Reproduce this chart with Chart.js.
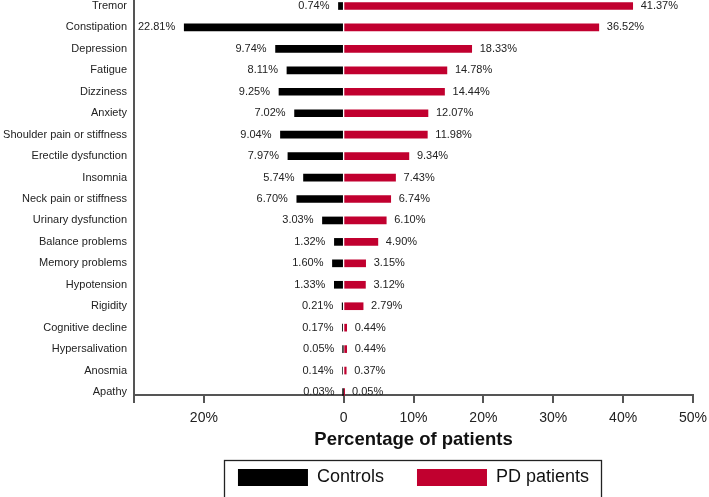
<!DOCTYPE html>
<html>
<head>
<meta charset="utf-8">
<script src="https://cdn.jsdelivr.net/npm/chart.js@4/dist/chart.umd.min.js"></script>
<style>
html,body{margin:0;padding:0;background:#fff;}
#wrap{width:709px;height:497px;}
</style>
</head>
<body>
<div id="wrap"><canvas id="c" width="709" height="497"></canvas></div>
<script>
const categories = ['Tremor','Constipation','Depression','Fatigue','Dizziness','Anxiety','Shoulder pain or stiffness','Erectile dysfunction','Insomnia','Neck pain or stiffness','Urinary dysfunction','Balance problems','Memory problems','Hypotension','Rigidity','Cognitive decline','Hypersalivation','Anosmia','Apathy'];
const controls = [0.74,22.81,9.74,8.11,9.25,7.02,9.04,7.97,5.74,6.70,3.03,1.32,1.60,1.33,0.21,0.17,0.05,0.14,0.03];
const pdPatients = [41.37,36.52,18.33,14.78,14.44,12.07,11.98,9.34,7.43,6.74,6.10,4.90,3.15,3.12,2.79,0.44,0.44,0.37,0.05];
const xTickValues = [-30,-20,0,10,20,30,40,50];
const xTickLabels = ['','20%','0','10%','20%','30%','40%','50%'];
const seriesNames = ['Controls','PD patients'];
const axisTitle = 'Percentage of patients';

const FONT = '"Liberation Sans", Arial, Helvetica, sans-serif';
const AXIS_COLOR = '#555';
const RED = '#c1002f';

const valueLabels = {
  id: 'valueLabels',
  afterDatasetsDraw(chart) {
    const ctx = chart.ctx;
    ctx.save();
    ctx.font = '11px ' + FONT;
    ctx.fillStyle = '#222';
    ctx.textBaseline = 'middle';
    const m0 = chart.getDatasetMeta(0), m1 = chart.getDatasetMeta(1);
    m0.data.forEach((bar, i) => {
      ctx.textAlign = 'right';
      ctx.fillText(controls[i].toFixed(2) + '%', bar.x - 9, bar.y);
    });
    m1.data.forEach((bar, i) => {
      ctx.textAlign = 'left';
      ctx.fillText(pdPatients[i].toFixed(2) + '%', bar.x + 8, bar.y);
    });
    ctx.restore();
  }
};

const legendFrame = {
  id: 'legendFrame',
  afterDraw(chart) {
    const lg = chart.legend;
    const hb = lg && lg.legendHitBoxes;
    if (!hb || hb.length < 2) return;
    const ctx = chart.ctx;
    const left = Math.round(hb[0].left - 14);
    const right = Math.round(hb[1].left + hb[1].width + 12);
    const top = Math.round(hb[0].top - 9);
    ctx.save();
    ctx.strokeStyle = '#222';
    ctx.lineWidth = 1.3;
    ctx.strokeRect(left + 0.5, top + 0.5, right - left, 80);
    ctx.restore();
  }
};

new Chart(document.getElementById('c'), {
  type: 'bar',
  data: {
    datasets: [
      {
        label: seriesNames[0],
        data: controls.map((v, i) => ({x: -v, y: i})),
        backgroundColor: '#000',
        borderWidth: 0,
        barThickness: 7,
        grouped: false,
        clip: false
      },
      {
        label: seriesNames[1],
        data: pdPatients.map((v, i) => ({x: v, y: i})),
        backgroundColor: RED,
        borderWidth: 0,
        barThickness: 7,
        grouped: false,
        clip: false
      }
    ]
  },
  options: {
    indexAxis: 'y',
    responsive: false,
    animation: false,
    devicePixelRatio: 1,
    layout: {padding: {left: 0, right: 16, top: 0, bottom: 0.5}},
    scales: {
      x: {
        type: 'linear',
        min: -30,
        max: 50,
        bounds: 'data',
        afterBuildTicks: s => { s.ticks = xTickValues.map(v => ({value: v})); },
        afterFit: s => { s.paddingLeft = 0; s.paddingRight = 0; },
        ticks: {
          callback: v => { const k = xTickValues.indexOf(v); return k >= 0 ? xTickLabels[k] : ''; },
          font: {family: FONT, size: 14},
          color: '#222',
          padding: 7,
          maxRotation: 0,
          autoSkip: false
        },
        grid: {drawOnChartArea: false, drawTicks: true, tickLength: 8, tickColor: AXIS_COLOR, tickWidth: 2, color: AXIS_COLOR, lineWidth: 2},
        border: {color: AXIS_COLOR, width: 2},
        title: {
          display: true,
          text: axisTitle,
          font: {family: FONT, size: 18.5, weight: 'bold'},
          color: '#111',
          padding: {top: -4.5, bottom: -16}
        }
      },
      y: {
        type: 'linear',
        reverse: true,
        offset: false,
        min: -0.28,
        max: 18.14,
        bounds: 'data',
        afterBuildTicks: s => { s.ticks = categories.map((_, i) => ({value: i})); },
        afterFit: s => { s.width = 134; s.paddingTop = 0; s.paddingBottom = 0; },
        ticks: {
          callback: v => categories[v] ?? '',
          font: {family: FONT, size: 11},
          color: '#222',
          padding: 7,
          autoSkip: false
        },
        grid: {offset: false, drawOnChartArea: false, drawTicks: false},
        border: {color: AXIS_COLOR, width: 2}
      }
    },
    plugins: {
      legend: {
        position: 'bottom',
        fullSize: false,
        align: 'center',
        labels: {
          boxWidth: 70,
          boxHeight: 17,
          padding: 33,
          font: {family: FONT, size: 18},
          color: '#111'
        }
      },
      tooltip: {enabled: false},
      title: {display: false}
    }
  },
  plugins: [valueLabels, legendFrame]
});
</script>
</body>
</html>
